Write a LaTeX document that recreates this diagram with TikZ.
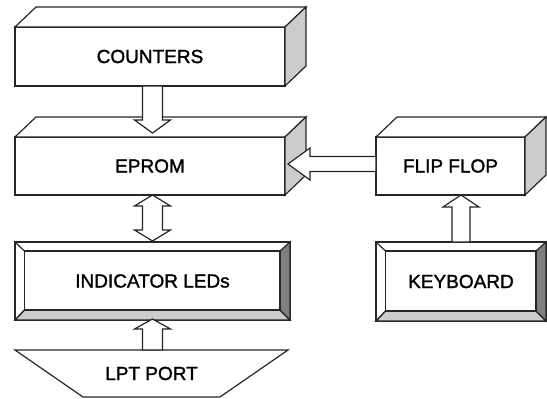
\documentclass[tikz,border=0pt]{standalone}
\usepackage{fontspec}
\setmainfont{Liberation Sans}
\newfontfamily\diagfont[FakeBold=1.5]{Liberation Sans}
\usetikzlibrary{calc}
\definecolor{sidegray}{gray}{0.8}
\definecolor{darkstrip}{gray}{0.5}
\definecolor{lightstrip}{gray}{0.8}
\tikzset{
  ln/.style={draw=black!85, line width=1.2pt, line join=miter},
  front/.style={ln, fill=white, rectangle, inner sep=0pt, outer sep=0pt, font=\diagfont\fontsize{19}{22}\selectfont},
  topface/.style={ln, fill=white},
  sideface/.style={ln, fill=sidegray},
  blockarr/.style={ln, fill=white},
}
\newcommand{\boxthreed}[1]{%
  \draw[topface] (#1.north west) -- ++(21,-20) -- ($(#1.north east)+(21,-20)$) -- (#1.north east) -- cycle;
  \draw[sideface] (#1.north east) -- ++(21,-20) -- ($(#1.south east)+(21,-20)$) -- (#1.south east) -- cycle;
}
\newcommand{\bevelbox}[1]{%
  \coordinate (#1-inw) at ($(#1.north west)+(9.5,9)$);
  \coordinate (#1-ine) at ($(#1.north east)+(-10,9)$);
  \coordinate (#1-ise) at ($(#1.south east)+(-10,-10)$);
  \coordinate (#1-isw) at ($(#1.south west)+(9.5,-10)$);
  \draw[ln, fill=lightstrip] (#1.south west) -- (#1.south east) -- (#1-ise) -- (#1-isw) -- cycle;
  \draw[ln, fill=darkstrip] (#1.north east) -- (#1.south east) -- (#1-ise) -- (#1-ine) -- cycle;
  \draw[ln] (#1-inw) rectangle (#1-ise);
  \draw[ln] (#1.north west) -- (#1-inw);
  \draw[ln] (#1.south west) -- (#1-isw);
}
\newcommand{\blockarrow}[5]{%
  \coordinate (hb) at ($(#2)!#5!(#1)$);
  \draw[blockarr] ($(#1)!#3!90:(#2)$) -- ($(hb)!#3!90:(#2)$) -- ($(hb)!#4!90:(#2)$) -- (#2)
     -- ($(hb)!#4!-90:(#2)$) -- ($(hb)!#3!-90:(#2)$) -- ($(#1)!#3!-90:(#2)$) -- cycle;
}
\newcommand{\dblarrow}[5]{%
  \coordinate (hbA) at ($(#1)!#5!(#2)$);
  \coordinate (hbB) at ($(#2)!#5!(#1)$);
  \draw[blockarr] (#1) -- ($(hbA)!#4!90:(#1)$) -- ($(hbA)!#3!90:(#1)$) -- ($(hbB)!#3!90:(#1)$)
     -- ($(hbB)!#4!90:(#1)$) -- (#2) -- ($(hbB)!#4!-90:(#1)$) -- ($(hbB)!#3!-90:(#1)$)
     -- ($(hbA)!#3!-90:(#1)$) -- ($(hbA)!#4!-90:(#1)$) -- cycle;
}
\begin{document}
\begin{tikzpicture}[x=1pt,y=-1pt]
\useasboundingbox[fill=white] (0,0) rectangle (547,399);
% 3D boxes
\node[front, minimum width=270pt, minimum height=59pt] (counters) at (150,56.5) {COUNTERS};
\boxthreed{counters}
\node[front, minimum width=270pt, minimum height=58pt] (eprom) at (150,166) {EPROM};
\boxthreed{eprom}
\node[front, minimum width=149pt, minimum height=58pt] (flipflop) at (450.5,166) {FLIP FLOP};
\boxthreed{flipflop}
% bevelled boxes
\node[front, minimum width=275pt, minimum height=78pt] (leds) at (152.5,281) {INDICATOR LEDs};
\bevelbox{leds}
\node[front, minimum width=170pt, minimum height=79pt] (keyboard) at (461,281.5) {KEYBOARD};
\bevelbox{keyboard}
% LPT port trapezoid
\node[front, draw=none, fill=none, minimum width=273pt, minimum height=47pt] (lpt) at (151.5,373.5) {LPT PORT};
\draw[ln] (lpt.north west) -- (lpt.north east) -- ($(lpt.south east)+(-68,0)$) -- ($(lpt.south west)+(68,0)$) -- cycle;
% connectors
\coordinate (c1s) at ($(counters.south)+(2.5,0)$);
\coordinate (c1t) at ($(eprom.north)+(2.5,-4)$);
\blockarrow{c1s}{c1t}{10pt}{18pt}{13pt}
\coordinate (c2a) at ($(eprom.south)+(2.5,0)$);
\coordinate (c2b) at ($(leds.north)+(0,-1)$);
\dblarrow{c2a}{c2b}{10pt}{18pt}{11pt}
\coordinate (c3s) at ($(lpt.north)+(1,0)$);
\coordinate (c3t) at ($(leds.south)+(0,-1)$);
\blockarrow{c3s}{c3t}{10pt}{18pt}{10pt}
\coordinate (c4s) at ($(flipflop.west)+(0,-2)$);
\coordinate (c4t) at ($(eprom.east)+(3,-2)$);
\blockarrow{c4s}{c4t}{7.5pt}{16pt}{22pt}
\coordinate (c5t) at (flipflop.south -| keyboard.north);
\blockarrow{keyboard.north}{c5t}{9pt}{18pt}{12pt}
\end{tikzpicture}
\end{document}
